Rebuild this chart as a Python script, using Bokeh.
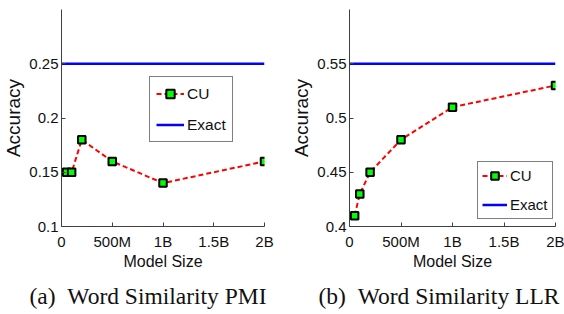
from bokeh.plotting import figure
from bokeh.layouts import row
from bokeh.models import FixedTicker, Legend, LegendItem, Title, Range1d
from bokeh.embed import file_html
from bokeh.resources import INLINE

# ---- data ----
sizes = [50e6, 100e6, 200e6, 500e6, 1e9, 2e9]
pmi_cu = [0.15, 0.15, 0.18, 0.16, 0.14, 0.16]
pmi_exact = 0.25
llr_cu = [0.41, 0.43, 0.45, 0.48, 0.51, 0.53]
llr_exact = 0.55
x_lo, x_hi = 0, 2e9
x_ticks = [0, 5e8, 1e9, 1.5e9, 2e9]
x_tick_labels = ["0", "500M", "1B", "1.5B", "2B"]
pmi_yrange = (0.1, 0.3)
pmi_yticks = [0.1, 0.15, 0.2, 0.25]
pmi_ylabels = ["0.1", "0.15", "0.2", "0.25"]
llr_yrange = (0.4, 0.6)
llr_yticks = [0.4, 0.45, 0.5, 0.55]
llr_ylabels = ["0.4", "0.45", "0.5", "0.55"]
captions = ["(a)\u00a0\u00a0Word Similarity PMI", "(b)\u00a0\u00a0Word Similarity LLR"]
series_names = ["CU", "Exact"]

SANS = "Liberation Sans"
AXIS_COLOR = "#404040"


def make_panel(cu, exact, yrange, yticks, ylabels, caption, fw, fh, bl, br,
               leg_loc, leg_font, leg_pad, leg_gw, leg_gh, leg_standoff, leg_spacing,
               cap_offset):
    p = figure(frame_width=fw, frame_height=fh, output_backend="svg",
               toolbar_location=None, x_range=Range1d(x_lo, x_hi),
               y_range=Range1d(*yrange), min_border_left=bl, min_border_right=br,
               min_border_top=9, min_border_bottom=86)
    p.outline_line_color = None
    p.xgrid.visible = False
    p.ygrid.visible = False
    p.background_fill_color = "white"
    p.border_fill_color = "white"

    r_line = p.line(sizes, cu, line_color="#ff0000", line_width=2, line_dash="5 3")
    r_pts = p.scatter(sizes, cu, marker="square", size=7.5, fill_color="#00ff00",
                      line_color="black", line_width=2)
    r_exact = p.line([x_lo, x_hi], [exact, exact], line_color="#0000ff", line_width=2.5)

    p.xaxis.ticker = FixedTicker(ticks=x_ticks)
    p.xaxis.major_label_overrides = dict(zip(x_ticks, x_tick_labels))
    p.yaxis.ticker = FixedTicker(ticks=yticks)
    p.yaxis.major_label_overrides = dict(zip(yticks, ylabels))
    for ax in (p.xaxis, p.yaxis):
        ax.axis_line_color = AXIS_COLOR
        ax.major_tick_line_color = AXIS_COLOR
        ax.major_tick_in = 4
        ax.major_tick_out = 0
        ax.minor_tick_line_color = None
        ax.major_label_text_font = SANS
        ax.major_label_text_font_size = "15px"
        ax.major_label_text_color = "#111111"
        ax.axis_label_text_font_style = "normal"
        ax.axis_label_text_color = "#111111"
    p.xaxis.axis_label = "Model Size"
    p.xaxis.axis_label_text_font = SANS
    p.xaxis.axis_label_text_font_size = "16px"
    p.xaxis.major_label_standoff = 6
    p.xaxis.axis_label_standoff = 0
    p.yaxis.axis_label = "Accuracy"
    p.yaxis.axis_label_text_font = SANS
    p.yaxis.axis_label_text_font_size = "19px"
    p.yaxis.major_label_standoff = 3
    p.yaxis.axis_label_standoff = 2

    legend = Legend(items=[LegendItem(label=series_names[0], renderers=[r_line, r_pts]),
                           LegendItem(label=series_names[1], renderers=[r_exact])],
                    location=leg_loc)
    legend.label_text_font = SANS
    legend.label_text_font_size = leg_font
    legend.label_text_color = "#111111"
    legend.padding = leg_pad
    legend.margin = 0
    legend.glyph_width = leg_gw
    legend.glyph_height = leg_gh
    legend.label_height = leg_gh
    legend.label_standoff = leg_standoff
    legend.spacing = leg_spacing
    legend.border_line_color = "black"
    legend.border_line_width = 1.5
    legend.background_fill_alpha = 1
    p.add_layout(legend)

    t = Title(text=caption, text_font="Liberation Serif", text_font_size="23.5px",
              text_font_style="normal", text_color="#111111", align="left",
              offset=cap_offset, standoff=16)
    p.add_layout(t, "below")
    return p


p1 = make_panel(pmi_cu, pmi_exact, pmi_yrange, pmi_yticks, pmi_ylabels, captions[0],
                fw=203, fh=217, bl=53, br=18, leg_loc=(88, 84), leg_font="15.5px",
                leg_pad=6, leg_gw=28, leg_gh=21, leg_standoff=3, leg_spacing=10,
                cap_offset=-32)
p2 = make_panel(llr_cu, llr_exact, llr_yrange, llr_yticks, llr_ylabels, captions[1],
                fw=206, fh=217, bl=67, br=9, leg_loc=(128, 7), leg_font="15px",
                leg_pad=4, leg_gw=25, leg_gh=19, leg_standoff=3, leg_spacing=10,
                cap_offset=-31)

layout = row(p1, p2, spacing=0)
open("out.html", "w").write(file_html(layout, INLINE))
